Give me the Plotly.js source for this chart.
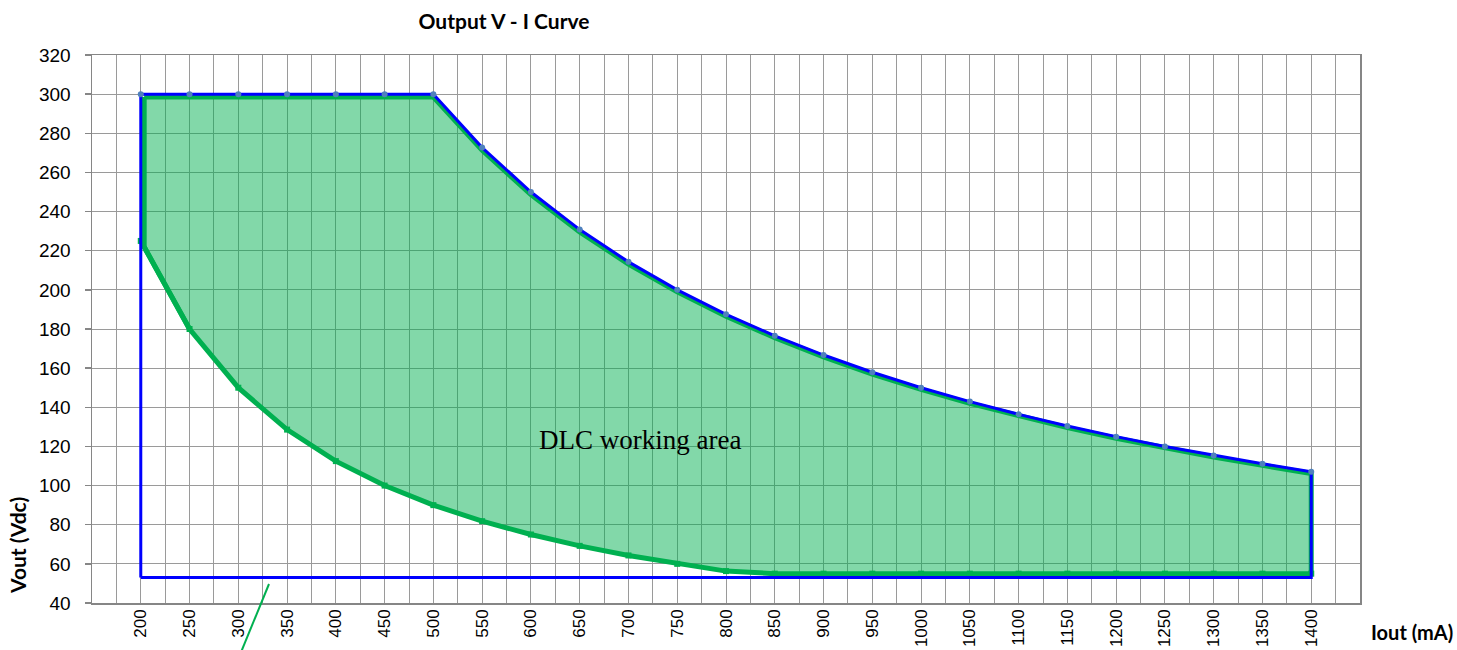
<!DOCTYPE html>
<html>
<head>
<meta charset="utf-8">
<script src="https://cdn.plot.ly/plotly-3.0.1.min.js"></script>
<style>
  html, body { margin: 0; padding: 0; background: #ffffff; }
  #chart { width: 1457px; height: 650px; }
</style>
</head>
<body>
<div id="chart"></div>
<script>
// ---- data ----
const iout = [200, 250, 300, 350, 400, 450, 500, 550, 600, 650, 700, 750, 800,
              850, 900, 950, 1000, 1050, 1100, 1150, 1200, 1250, 1300, 1350, 1400];
const xTickLabels = ["200","250","300","350","400","450","500","550","600","650","700","750","800",
                     "850","900","950","1000","1050","1100","1150","1200","1250","1300","1350","1400"];
// outer (blue) boundary: max Vout
const vMaxBoundary = [300, 300, 300, 300, 300, 300, 300, 272.7, 250, 230.8, 214.3, 200, 187.5,
                      176.5, 166.7, 157.9, 150, 142.9, 136.4, 130.4, 125, 120, 115.4, 111.1, 107.1];
const vFloorBlue = 53;
// working area (green) top edge and lower curve
const vAreaTop = [298.5, 298.5, 298.5, 298.5, 298.5, 298.5, 298.5, 271.3, 248.7, 229.6, 213.2, 199, 186.5,
                  175.6, 165.8, 157, 149.1, 142, 135.5, 129.6, 124.2, 119.2, 114.6, 110.3, 106.2];
const vMinCurve = [225, 180, 150, 128.6, 112.5, 100, 90, 81.8, 75, 69.2, 64.3, 60, 56.3,
                   55, 55, 55, 55, 55, 55, 55, 55, 55, 55, 55, 55];
const areaLeftX = 203.5;
const areaLeftLowV = 222;
const yTicks = [40, 60, 80, 100, 120, 140, 160, 180, 200, 220, 240, 260, 280, 300, 320];
const areaLabel = {text: "DLC working area", x: 712, y: 123.5};

// ---- build polygons from the arrays ----
const topX = [areaLeftX].concat(iout.slice(1));
const polyX = topX.concat(iout.slice(1).reverse()).concat([areaLeftX, areaLeftX]);
const polyY = vAreaTop.concat(vMinCurve.slice(1).reverse()).concat([areaLeftLowV, vAreaTop[0]]);

const blueX = [iout[0]].concat(iout).concat([iout[iout.length - 1], iout[0]]);
const blueY = [vFloorBlue].concat(vMaxBoundary).concat([vFloorBlue, vFloorBlue]);

const GREEN = "#00B050";
const BLUE = "#0000FF";
const GRID = "#9A9A9A";
const AXIS = "#868686";

const traces = [
  { x: polyX, y: polyY, mode: "lines", fill: "toself",
    fillcolor: "rgba(0,176,80,0.49)", line: {width: 0, color: GREEN},
    hoverinfo: "skip", showlegend: false },
  { x: polyX, y: polyY, mode: "lines",
    line: {width: 5, color: GREEN}, showlegend: false, name: "DLC working area" },
  { x: iout.slice(0, 2), y: vMinCurve.slice(0, 2), mode: "lines",
    line: {width: 5, color: GREEN}, showlegend: false, name: "min start" },
  { x: iout, y: vMinCurve, mode: "markers",
    marker: {symbol: "square", size: 6, color: GREEN}, showlegend: false, name: "min" },
  { x: blueX, y: blueY, mode: "lines",
    line: {width: 3, color: BLUE}, showlegend: false, name: "limit" },
  { x: iout, y: vMaxBoundary, mode: "markers",
    marker: {symbol: "circle", size: 6, color: "#4F81BD"}, showlegend: false, name: "max" }
];

const layout = {
  width: 1457, height: 650,
  paper_bgcolor: "#ffffff", plot_bgcolor: "#ffffff",
  margin: {l: 92, r: 97, t: 55, b: 47, pad: 0},
  font: {family: "Liberation Sans, Arial, sans-serif", size: 19, color: "#000000"},
  title: {
    text: "<b>Output V - I Curve</b>",
    font: {family: "Lato, Carlito, sans-serif", size: 21, color: "#000000"},
    x: 504 / 1457, xanchor: "center", xref: "container",
    y: 1 - 22 / 650, yanchor: "middle", yref: "container"
  },
  xaxis: {
    range: [150, 1450],
    tickmode: "array", tickvals: iout, ticktext: xTickLabels,
    tickangle: -90,
    ticks: "", ticklabelstandoff: -2,
    showgrid: true, gridcolor: GRID, gridwidth: 1,
    minor: {tickmode: "linear", tick0: 150, dtick: 25, showgrid: true, gridcolor: GRID, gridwidth: 1, ticks: ""},
    showline: true, linecolor: AXIS, linewidth: 1.5, mirror: true,
    zeroline: false, fixedrange: true,
    tickfont: {family: "Liberation Sans, Arial, sans-serif", size: 17, color: "#000000"}
  },
  yaxis: {
    range: [40, 320],
    tickmode: "array", tickvals: yTicks,
    ticks: "outside", ticklen: 6, tickcolor: AXIS, tickwidth: 1.5,
    ticklabelstandoff: 10,
    showgrid: true, gridcolor: GRID, gridwidth: 1,
    showline: true, linecolor: AXIS, linewidth: 1.5, mirror: true,
    zeroline: false, fixedrange: true,
    tickfont: {family: "Liberation Sans, Arial, sans-serif", size: 19, color: "#000000"}
  },
  annotations: [
    { text: areaLabel.text, x: areaLabel.x, y: areaLabel.y, xref: "x", yref: "y",
      showarrow: false, font: {family: "Liberation Serif, Times New Roman, serif", size: 27, color: "#000000"} },
    { text: "<b>Vout (Vdc)</b>", xref: "paper", yref: "paper",
      x: (17 - 92) / 1268, y: (603 - 546) / 548, xanchor: "center", yanchor: "middle",
      textangle: -90, showarrow: false,
      font: {family: "Lato, Carlito, sans-serif", size: 21, color: "#000000"} },
    { text: "<b>Iout (mA)</b>", xref: "paper", yref: "paper",
      x: (1412 - 92) / 1268, y: (603 - 632) / 548, xanchor: "center", yanchor: "middle",
      showarrow: false,
      font: {family: "Lato, Carlito, sans-serif", size: 20, color: "#000000"} }
  ],
  shapes: [
    { type: "line", xref: "paper", yref: "paper",
      x0: (269 - 92) / 1268, y0: (603 - 584) / 548,
      x1: (237 - 92) / 1268, y1: (603 - 662) / 548,
      line: {color: GREEN, width: 2} }
  ]
};

Plotly.newPlot("chart", traces, layout, {displayModeBar: false, staticPlot: true});
</script>
</body>
</html>
